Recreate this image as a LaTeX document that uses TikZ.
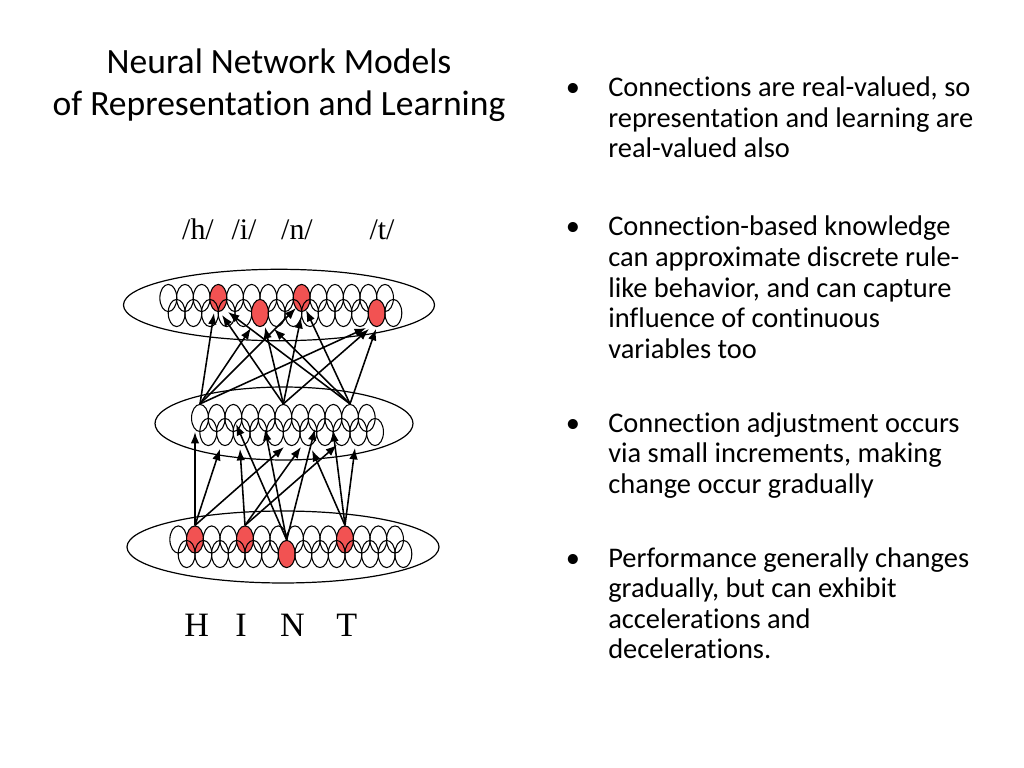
\documentclass[tikz,border=0pt]{standalone}
\usepackage{fontspec}
\setmainfont{Carlito}[Ligatures=NoCommon]
\newfontfamily\tnr{Liberation Serif}
\usetikzlibrary{arrows.meta,shapes.geometric}
\definecolor{nred}{RGB}{242,82,82}
\begin{document}
\begin{tikzpicture}[x=0.703125pt,y=-0.703125pt,
  unit/.style={ellipse, draw=black, line width=0.75pt, inner sep=0pt, minimum width=11.9pt, minimum height=19.1pt, fill=nred},
  layer/.style={ellipse, draw=black, line width=0.85pt, inner sep=0pt},
  arr/.style={-{Latex[length=8pt,width=6pt]}, line width=1.1pt},
  titletext/.style={font=\fontsize{25}{30}\selectfont, anchor=base, inner sep=0pt},
  bultext/.style={font=\fontsize{20}{24}\selectfont, anchor=base west, inner sep=0pt},
  bulmark/.style={font=\fontsize{20}{24}\selectfont, anchor=base, inner sep=0pt},
  phon/.style={font=\tnr\fontsize{21}{24}\selectfont, anchor=base, inner sep=0pt},
  letter/.style={font=\tnr\fontsize{24}{28}\selectfont, anchor=base, inner sep=0pt}]
\useasboundingbox (0,0) rectangle (1024,768);
\fill[white] (0,0) rectangle (1024,768);

% title
\node[titletext] (title1) at (279,74) {Neural Network Models};
\node[titletext] (title2) at (279,116) {of Representation and Learning};

% bullets
\node[bulmark] (b1) at (573,97) {•};
\node[bultext] (p1a) at (608,97) {Connections are real-valued, so};
\node[bultext] (p1b) at (608,127.5) {representation and learning are};
\node[bultext] (p1c) at (608,158) {real-valued also};
\node[bulmark] (b2) at (573,236) {•};
\node[bultext] (p2a) at (608,236) {Connection-based knowledge};
\node[bultext] (p2b) at (608,266.5) {can approximate discrete rule-};
\node[bultext] (p2c) at (608,297) {like behavior, and can capture};
\node[bultext] (p2d) at (608,327.5) {influence of continuous};
\node[bultext] (p2e) at (608,358) {variables too};
\node[bulmark] (b3) at (573,432) {•};
\node[bultext] (p3a) at (608,432) {Connection adjustment occurs};
\node[bultext] (p3b) at (608,462.5) {via small increments, making};
\node[bultext] (p3c) at (608,493) {change occur gradually};
\node[bulmark] (b4) at (573,567) {•};
\node[bultext] (p4a) at (608,567) {Performance generally changes};
\node[bultext] (p4b) at (608,597.5) {gradually, but can exhibit};
\node[bultext] (p4c) at (608,628) {accelerations and};
\node[bultext] (p4d) at (608,658.5) {decelerations.};

% labels
\node[phon] (ph) at (198,240) {/h/};
\node[phon] (pi) at (244,240) {/i/};
\node[phon] (pn) at (297,240) {/n/};
\node[phon] (pt) at (382,240) {/t/};
\node[letter] (lH) at (196.7,636) {H};
\node[letter] (lI) at (241,636) {I};
\node[letter] (lN) at (292.5,636) {N};
\node[letter] (lT) at (346.7,636) {T};

% layers
\node[layer, minimum width=218.7pt, minimum height=50.2pt] (outlayer) at (279,305) {};
\node[layer, minimum width=181.4pt, minimum height=51.3pt] (hidlayer) at (284,423.5) {};
\node[layer, minimum width=219.4pt, minimum height=50.6pt] (inlayer) at (283,547) {};

% output units
\foreach \i in {0,...,13}{
  \pgfmathsetmacro\op{(\i==3||\i==8)?1:0}
  \node[unit, fill opacity=\op, draw opacity=1] (tu\i) at ({168.33+16.667*\i},298) {};
}
\foreach \i in {0,...,13}{
  \pgfmathsetmacro\op{(\i==5||\i==12)?1:0}
  \node[unit, fill opacity=\op, draw opacity=1] (tl\i) at ({176.67+16.667*\i},313) {};
}
% hidden units
\foreach \i in {0,...,10}{
  \node[unit, fill opacity=0, draw opacity=1] (mu\i) at ({200+16.667*\i},418) {};
}
\foreach \i in {0,...,10}{
  \node[unit, fill opacity=0, draw opacity=1] (ml\i) at ({208.33+16.667*\i},432) {};
}
% input units
\foreach \i in {0,...,13}{
  \pgfmathsetmacro\op{(\i==1||\i==4||\i==10)?1:0}
  \node[unit, fill opacity=\op, draw opacity=1] (bu\i) at ({178.33+16.667*\i},539.5) {};
}
\foreach \i in {0,...,13}{
  \pgfmathsetmacro\op{(\i==6)?1:0}
  \node[unit, fill opacity=\op, draw opacity=1] (bl\i) at ({186.67+16.667*\i},554) {};
}

% arrow tips, input -> hidden
\coordinate (pa1) at (195,432);
\coordinate (pa2) at (220,449);
\coordinate (pa3) at (284,447);
\coordinate (pb1) at (240,449);
\coordinate (pb2) at (301,447);
\coordinate (pb3) at (337,445);
\coordinate (pc1) at (236,424);
\coordinate (pc2) at (265,429);
\coordinate (pc3) at (315,429);
\coordinate (pd1) at (312,450);
\coordinate (pd2) at (333,430);
\coordinate (pd3) at (355,448);
% arrow tips, hidden -> output
\coordinate (ql1) at (214,313);
\coordinate (ql2) at (251,328);
\coordinate (ql3) at (296,308);
\coordinate (ql4) at (366,328);
\coordinate (qc1) at (222,315);
\coordinate (qc2) at (265,327);
\coordinate (qc3) at (301,317);
\coordinate (qc4) at (369,329);
\coordinate (qr1) at (228,312);
\coordinate (qr2) at (274,329);
\coordinate (qr3) at (306,310);
\coordinate (qr4) at (376,329);

\draw[arr] (bu1.north) -- (pa1);
\draw[arr] (bu1.north) -- (pa2);
\draw[arr] (bu1.north) -- (pa3);
\draw[arr] (bu4.north) -- (pb1);
\draw[arr] (bu4.north) -- (pb2);
\draw[arr] (bu4.north) -- (pb3);
\draw[arr] (bl6.north) -- (pc1);
\draw[arr] (bl6.north) -- (pc2);
\draw[arr] (bl6.north) -- (pc3);
\draw[arr] (bu10.north) -- (pd1);
\draw[arr] (bu10.north) -- (pd2);
\draw[arr] (bu10.north) -- (pd3);

\draw[arr] (mu0.north) -- (ql1);
\draw[arr] (mu0.north) -- (ql2);
\draw[arr] (mu0.north) -- (ql3);
\draw[arr] (mu0.north) -- (ql4);
\draw[arr] (mu5.north) -- (qc1);
\draw[arr] (mu5.north) -- (qc2);
\draw[arr] (mu5.north) -- (qc3);
\draw[arr] (mu5.north) -- (qc4);
\draw[arr] (mu9.north) -- (qr1);
\draw[arr] (mu9.north) -- (qr2);
\draw[arr] (mu9.north) -- (qr3);
\draw[arr] (mu9.north) -- (qr4);
\end{tikzpicture}
\end{document}
